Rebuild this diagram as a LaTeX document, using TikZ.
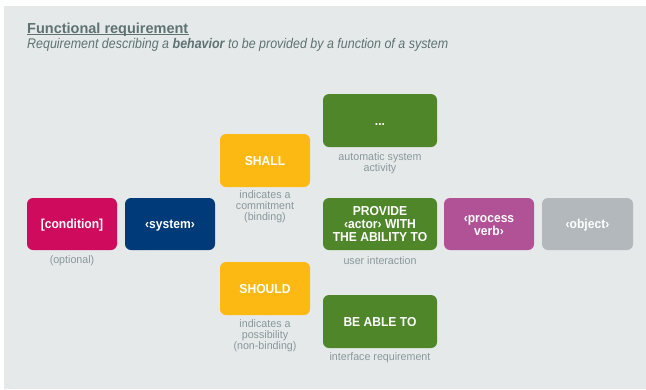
\documentclass[tikz,border=0pt]{standalone}
\usepackage{fontspec}
\setmainfont{Liberation Sans}
\newfontfamily\boxfont[FakeStretch=0.93]{Liberation Sans}
\newfontfamily\notefont[FakeStretch=0.97]{Liberation Sans}
\newfontfamily\subfont[FakeStretch=0.89]{Liberation Sans}
\definecolor{panel}{HTML}{E5E9EA}
\definecolor{headgray}{HTML}{5E7272}
\definecolor{notegray}{HTML}{8A989B}
\definecolor{condred}{HTML}{CE0B5C}
\definecolor{sysblue}{HTML}{003A78}
\definecolor{modalyellow}{HTML}{FDB913}
\definecolor{actgreen}{HTML}{4E8629}
\definecolor{verbpurple}{HTML}{B15297}
\definecolor{objgray}{HTML}{B2B8BB}
\tikzset{
  block/.style={rounded corners=6pt, minimum height=52pt, inner sep=2pt,
    text=white, align=center, text depth=0pt,
    font=\boxfont\fontsize{13}{13}\selectfont\bfseries},
  % centre the capitals of one, two or three lines inside the box
  lines1/.style={text height=9.4pt},
  lines2/.style={text height=22.4pt},
  lines3/.style={text height=35.4pt},
  narrow/.style={block, minimum width=90pt},
  wide/.style={block, minimum width=114pt},
  note/.style={text=notegray, align=center, inner sep=0pt,
    font=\notefont\fontsize{11}{11}\selectfont},
}
\begin{document}
\begin{tikzpicture}[x=1pt,y=-1pt]
  \useasboundingbox (0,0) rectangle (646,389);
  \fill[white] (0,0) rectangle (646,389);
  \fill[panel] (4,6) rectangle (646,389);

  % heading
  \node[anchor=base west, inner sep=0pt, text=headgray,
        font=\fontsize{14.5}{16}\selectfont\bfseries] (title) at (27,33)
        {Functional requirement};
  \draw[headgray, line width=0.8pt]
        ([yshift=-1.6pt]title.base west) -- ([yshift=-1.6pt]title.base east);
  \node[anchor=base west, inner sep=0pt, text=headgray,
        font=\subfont\fontsize{14}{16}\selectfont\itshape] (subtitle) at (27,48)
        {Requirement describing a \textbf{behavior} to be provided by a function of a system};

  % sentence template blocks
  \node[narrow, lines1, fill=condred]     (cond)    at (72,224)    {[condition]};
  \node[narrow, lines1, fill=sysblue]     (sys)     at (170,224)   {‹system›};
  \node[narrow, lines1, fill=modalyellow, minimum height=53pt] (shall)  at (265,160.5) {SHALL};
  \node[narrow, lines1, fill=modalyellow, minimum height=53pt] (should) at (265,288.5) {SHOULD};
  \node[wide,   lines1, fill=actgreen, minimum height=53pt] (auto)    at (380,120.5) {...};
  \node[wide,   lines3, fill=actgreen]    (provide) at (380,224)
        {PROVIDE\\‹actor› WITH\\THE ABILITY TO};
  \node[wide,   lines1, fill=actgreen, minimum height=53pt] (able)    at (380,321.5) {BE ABLE TO};
  \node[narrow, lines2, fill=verbpurple]  (verb)    at (489,224)   {‹process\\verb›};
  \node[narrow, lines1, fill=objgray, minimum width=91pt] (obj) at (587.5,224) {‹object›};

  % explanatory notes
  \node[note] (condnote)    at (72,261)    {(optional)};
  \node[note] (shallnote)   at (265,207)   {indicates a\\commitment\\(binding)};
  \node[note] (shouldnote)  at (265,336)   {indicates a\\possibility\\(non-binding)};
  \node[note] (autonote)    at (380,163.5) {automatic system\\activity};
  \node[note] (providenote) at (380,261)   {user interaction};
  \node[note] (ablenote)    at (380,358)   {interface requirement};
\end{tikzpicture}
\end{document}
